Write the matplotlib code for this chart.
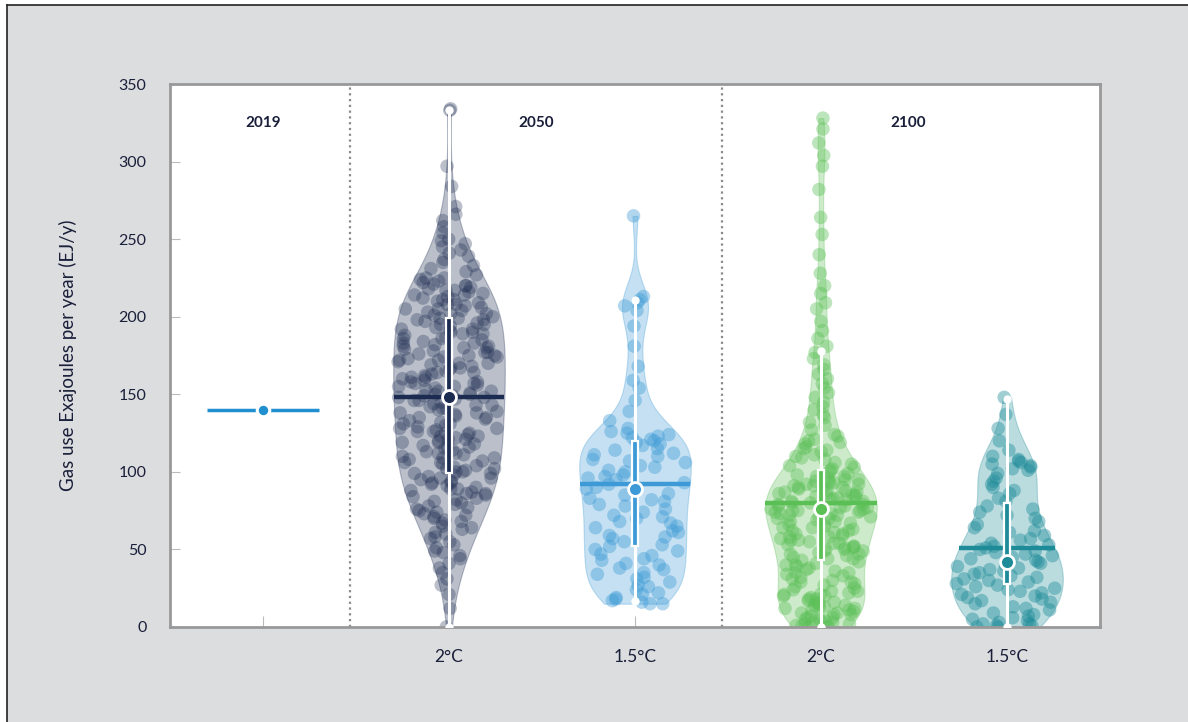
import numpy as np
import matplotlib
matplotlib.use('Agg')
import matplotlib.pyplot as plt
from matplotlib.patches import Rectangle
from matplotlib.lines import Line2D
from matplotlib.mlab import GaussianKDE
from matplotlib.colors import to_rgba

plt.rcParams['font.family'] = ['Lato', 'DejaVu Sans']

# ---- data (EJ/y) ----
gas_2019 = 140

gas_2050_2c = [
    0, 12, 21,
    27, 31, 35, 38, 41, 44, 46, 48, 49,
    51, 53, 55, 57, 58, 60, 61, 63, 64, 65, 67, 68, 69, 70, 71, 72, 73, 74,
    75, 76, 77, 78, 79, 80, 81, 82, 83, 84, 85, 86, 86, 87, 88, 89, 89, 90,
    91, 92, 93, 93, 94, 95, 96, 96, 97, 98, 99, 99,
    100, 100, 101, 102, 102, 103, 104, 105, 106, 106, 107, 108, 109, 109,
    110, 111, 112, 112, 113, 114, 115, 116, 116, 117, 118, 119, 119, 120,
    121, 121, 122, 123, 123, 124, 125, 125,
    126, 126, 127, 128, 128, 129, 130, 131, 131, 132, 133, 134, 135, 135,
    136, 137, 138, 138, 139, 140, 141, 141, 142, 143, 143, 144, 145, 146,
    146, 147, 148, 148, 149, 149, 150, 150,
    151, 152, 152, 153, 154, 155, 155, 156, 157, 158, 158, 159, 160, 161,
    161, 162, 163, 164, 164, 165, 166, 167, 167, 168, 169, 170, 170, 171,
    172, 172, 173, 174, 174, 175, 175, 157,
    176, 177, 177, 178, 179, 180, 180, 181, 182, 183, 183, 184, 185, 186,
    186, 187, 188, 189, 189, 190, 191, 192, 192, 193, 194, 195, 195, 196,
    197, 198, 198, 199, 199, 200, 181, 190,
    201, 202, 202, 203, 204, 205, 205, 206, 207, 208, 208, 209, 210, 211,
    211, 212, 213, 214, 214, 215, 216, 217, 217, 218, 219, 220, 220, 221,
    222, 223, 224, 225, 225,
    227, 229, 231, 233, 235, 237, 239, 241, 243, 245, 247, 249, 250,
    254, 258, 262, 266, 271, 284, 297, 333, 334,
]

gas_2050_15c = [
    15, 15, 16, 17, 18, 19, 21, 22, 24,
    26, 27, 29, 31, 32, 34, 35, 37, 38, 40, 41, 43, 44, 46, 47, 49,
    50, 52, 53, 55, 57, 58, 59, 61, 62, 64, 65, 67, 68, 70, 71, 72, 74,
    76, 78, 79, 81, 82, 83, 85, 86, 88, 89, 90, 92, 93, 95, 96, 97, 98, 100,
    101, 103, 104, 106, 107, 108, 110, 111, 112, 114, 115, 117, 118, 119,
    120, 121, 122, 123, 124, 125, 126, 128,
    133, 139, 146, 154, 159,
    168, 181, 194, 204, 207, 209, 211, 213, 265,
]

gas_2100_2c = [
    0, 0, 0, 1, 1, 2, 2, 3, 3, 4, 4, 5, 5, 6, 6, 7, 8, 8, 9, 9, 10, 11,
    11, 12, 12, 13, 13, 14, 14, 15, 16, 16, 17, 18, 18, 19, 20, 20, 21, 21,
    22, 23, 23, 24, 25,
    26, 27, 28, 29, 29, 30, 31, 32, 33, 34, 35, 35, 36, 37, 38, 39,
    40, 40, 41, 42, 43, 44, 44, 45, 46, 47, 47, 48, 49, 49, 50, 50,
    51, 51, 52, 52, 53, 54, 54, 55, 56, 56, 57, 58, 58, 59, 60, 60, 61, 62,
    62, 63, 64, 64, 65, 66, 66, 67, 68, 68, 69, 70, 70, 71, 71, 72, 72, 73,
    73, 74, 74, 75, 75, 75,
    76, 76, 77, 77, 78, 78, 79, 79, 80, 80, 81, 81, 82, 82, 83, 83, 84, 84,
    85, 85, 86, 86, 87, 87, 88, 88, 89, 89, 90, 90, 91, 91, 92, 92, 93, 93,
    94, 94, 95, 95, 96, 97, 97, 98, 99, 100,
    101, 102, 103, 104, 105, 106, 108, 109, 110, 111, 113, 114, 115, 116,
    118, 119, 120, 121, 123, 124,
    127, 130, 132, 135, 137, 140, 142, 145, 148,
    151, 154, 157, 160, 163, 166, 169, 173,
    177, 181, 186, 191, 197,
    205, 209, 215, 220, 228, 240, 253, 264, 282, 297, 304, 312, 321, 328,
]

gas_2100_15c = [
    0, 0, 1, 1, 2, 2, 3, 4, 5, 6, 7, 8, 9,
    11, 12, 13, 15, 16, 17, 18, 19, 20, 21, 22, 23, 24, 25,
    26, 27, 28, 29, 30, 31, 32, 33, 34, 35, 36, 37, 38, 39, 40, 41, 42, 43,
    44, 45, 46, 47, 48, 49,
    50, 51, 52, 53, 54, 56, 57, 59, 61, 62, 64, 66, 68, 70, 72, 74,
    76, 78, 81, 83, 86, 88, 90, 92, 94, 96, 99,
    101, 102, 103, 104, 105, 106, 107, 108, 110, 114, 120,
    128, 137, 148,
]

# summary marks as drawn on the chart
means = [148, 92, 80, 51]
medians = [148, 89, 76, 42]
q1 = [99, 52, 43, 28]
q3 = [199, 120, 101, 80]
whisk_lo = [0, 17, 0, 0]
whisk_hi = [333, 211, 178, 147]

series = [gas_2050_2c, gas_2050_15c, gas_2100_2c, gas_2100_15c]
colors = ['#1c2b50', '#3d9ad6', '#5abf55', '#1d8b98']
pt_alpha = [0.3, 0.4, 0.4, 0.42]
bws = [0.3, 0.25, 0.22, 0.4]
tick_labels = ['', '2°C', '1.5°C', '2°C', '1.5°C']
years = ['2019', '2050', '2100']
year_x = [0, 1.47, 3.47]

col_2019 = '#1f8fd0'
text_col = '#1a1f3a'
vwidth = 0.6

fig = plt.figure(figsize=(11.88, 7.22), dpi=100)
fig.patch.set_facecolor('white')
fig.add_artist(Rectangle((7 / 1188, 0), 1, 1 - 4.5 / 722, transform=fig.transFigure,
                         facecolor='#dcdddf', edgecolor='none', zorder=0))
fig.add_artist(Line2D([7 / 1188, 1], [1 - 4.5 / 722] * 2, transform=fig.transFigure,
                      color='#222222', lw=1.2))
fig.add_artist(Line2D([7 / 1188] * 2, [0, 1 - 4.5 / 722], transform=fig.transFigure,
                      color='#222222', lw=1.2))

ax = fig.add_axes([170 / 1188, 95 / 722, 930 / 1188, 543 / 722])
ax.set_facecolor('white')
ax.set_xlim(-0.5, 4.5)
ax.set_ylim(0, 350)

# 2019 value
ax.plot([-0.3, 0.3], [gas_2019, gas_2019], color=col_2019, lw=2.5, zorder=3,
        solid_capstyle='butt')
ax.plot([0], [gas_2019], 'o', color=col_2019, ms=9, mec='white', mew=2.2, zorder=4)

positions = [1, 2, 3, 4]
for i, (vals, pos, c) in enumerate(zip(series, positions, colors)):
    vals = np.asarray(vals, dtype=float)
    parts = ax.violinplot([vals], positions=[pos], widths=vwidth, bw_method=bws[i],
                          showextrema=False, points=300)
    for b in parts['bodies']:
        b.set_facecolor(to_rgba(c, 0.3))
        b.set_edgecolor(to_rgba(c, 0.9))
        b.set_linewidth(0.8)
        b.set_zorder(1)

    kde = GaussianKDE(vals, bw_method=bws[i])
    grid = np.linspace(vals.min(), vals.max(), 300)
    dmax = kde.evaluate(grid).max()

    def halfw(y):
        return kde.evaluate(np.atleast_1d(y)) / dmax * vwidth / 2

    # deterministic (hash-based) spread across the violin width
    idx = np.arange(len(vals)) + 17 * i
    h = np.sin(idx * 78.233 + vals * 12.9898) * 43758.5453
    u = (h - np.floor(h)) * 2 - 1
    xs = pos + u * halfw(vals) * 0.92
    ax.scatter(xs, vals, s=95, color=c, alpha=pt_alpha[i], edgecolors='none', zorder=2)

    # mean line across the violin
    hw = halfw(means[i])[0]
    ax.plot([pos - hw, pos + hw], [means[i]] * 2, color=c, lw=3.2, zorder=3,
            solid_capstyle='butt')
    # whisker
    ax.plot([pos, pos], [whisk_lo[i], whisk_hi[i]], color='white', lw=2.2, zorder=4)
    ax.plot([pos, pos], [whisk_lo[i], whisk_hi[i]], 'o', color='white', ms=5, zorder=4)
    # box
    ax.add_patch(Rectangle((pos - 0.017, q1[i]), 0.034, q3[i] - q1[i], facecolor=c,
                           edgecolor='white', lw=1.6, zorder=5))
    # median
    ax.plot([pos], [medians[i]], 'o', color=c, ms=10, mec='white', mew=2, zorder=6)

# separators
for xd in [0.47, 2.47]:
    ax.axvline(xd, color='#8a8a8a', lw=1.6, ls=(0, (1, 1.6)), zorder=0.5)

for yr, xx in zip(years, year_x):
    ax.text(xx, 325, yr, ha='center', va='center', fontsize=11, fontweight='bold',
            color=text_col)

for s in ax.spines.values():
    s.set_color('#999999')
    s.set_linewidth(2)

ax.set_yticks(range(0, 351, 50))
ax.set_xticks(range(5))
ax.set_xticklabels(tick_labels)
ax.tick_params(axis='y', direction='in', length=7, width=0.8, color='#bbbbbb',
               pad=17, labelsize=11.5, labelcolor=text_col)
ax.tick_params(axis='x', direction='in', length=8, width=0.8, color='#bbbbbb',
               pad=16, labelsize=12.5, labelcolor=text_col)
ax.set_ylabel('Gas use Exajoules per year (EJ/y)', fontsize=13.5, color=text_col,
              labelpad=30)

fig.savefig('out.png', dpi=100, facecolor=fig.get_facecolor())
